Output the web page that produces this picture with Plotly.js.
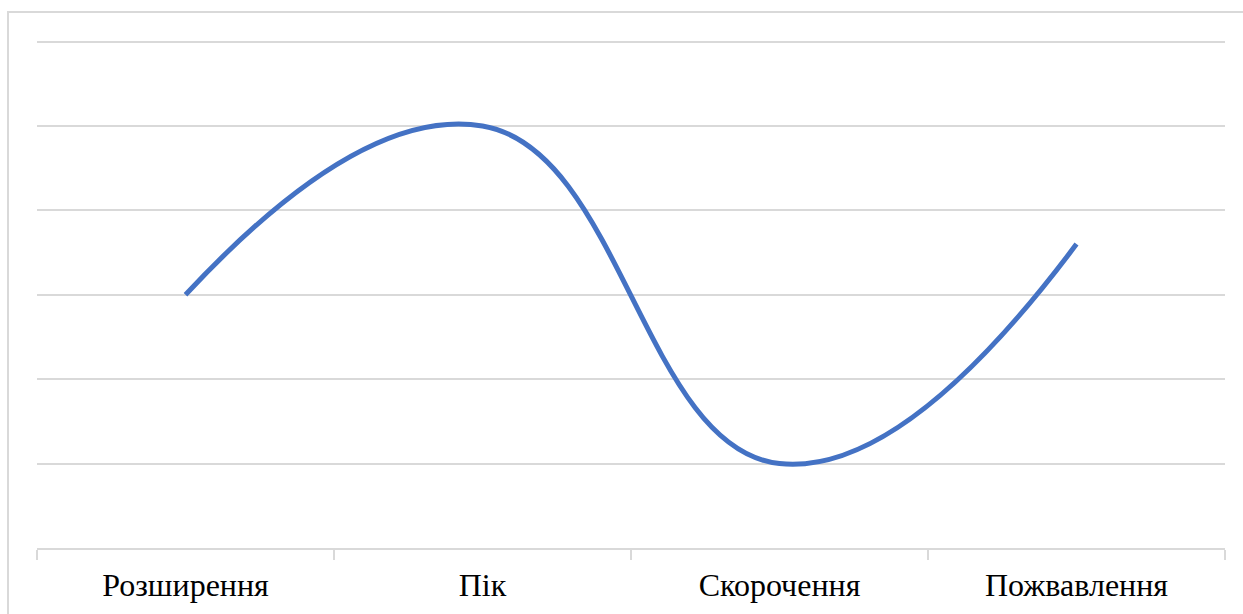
<!DOCTYPE html>
<html>
<head>
<meta charset="utf-8">
<script src="https://cdn.plot.ly/plotly-3.0.1.min.js"></script>
<style>
html,body{margin:0;padding:0;background:#fff;}
#wrap{position:relative;width:1243px;height:614px;overflow:hidden;}
#chart{width:1243px;height:614px;}
#frame{position:absolute;left:7px;top:11px;width:1300px;height:700px;border:2px solid #d9d9d9;box-sizing:border-box;pointer-events:none;}
</style>
</head>
<body>
<div id="wrap"><div id="chart"></div><div id="frame"></div></div>
<script>
const categories = ["Розширення", "Пік", "Скорочення", "Пожвавлення"];
const values = [3, 5, 1, 3.6];
const gridValues = [1, 2, 3, 4, 5, 6];

const W = 1243, H = 614;
const L = 37, R = 18, T = 39, B = 66;

const trace = {
  type: "scatter",
  mode: "lines",
  x: categories,
  y: values,
  line: {color: "#4472C4", width: 5, shape: "spline", smoothing: 1.3},
  hoverinfo: "skip"
};

const layout = {
  width: W, height: H,
  margin: {l: L, r: R, t: T, b: B, pad: 0},
  paper_bgcolor: "rgba(0,0,0,0)",
  plot_bgcolor: "rgba(0,0,0,0)",
  showlegend: false,
  font: {family: "Liberation Serif, Times New Roman, serif", color: "#000000"},
  xaxis: {
    type: "category",
    range: [-0.5, 3.5],
    tickson: "boundaries",
    ticks: "outside",
    ticklen: 10,
    tickwidth: 2,
    tickcolor: "#d9d9d9",
    showline: true,
    linecolor: "#d9d9d9",
    linewidth: 2,
    showgrid: false,
    zeroline: false,
    ticklabelstandoff: 8,
    tickfont: {size: 32, family: "Liberation Serif, Times New Roman, serif", color: "#000000"}
  },
  yaxis: {
    range: [0, 6.03],
    tickvals: gridValues,
    showticklabels: false,
    showgrid: true,
    gridcolor: "#d9d9d9",
    gridwidth: 2,
    zeroline: false,
    showline: false,
    ticks: ""
  }
};

Plotly.newPlot("chart", [trace], layout, {displayModeBar: false, staticPlot: true});
</script>
</body>
</html>
